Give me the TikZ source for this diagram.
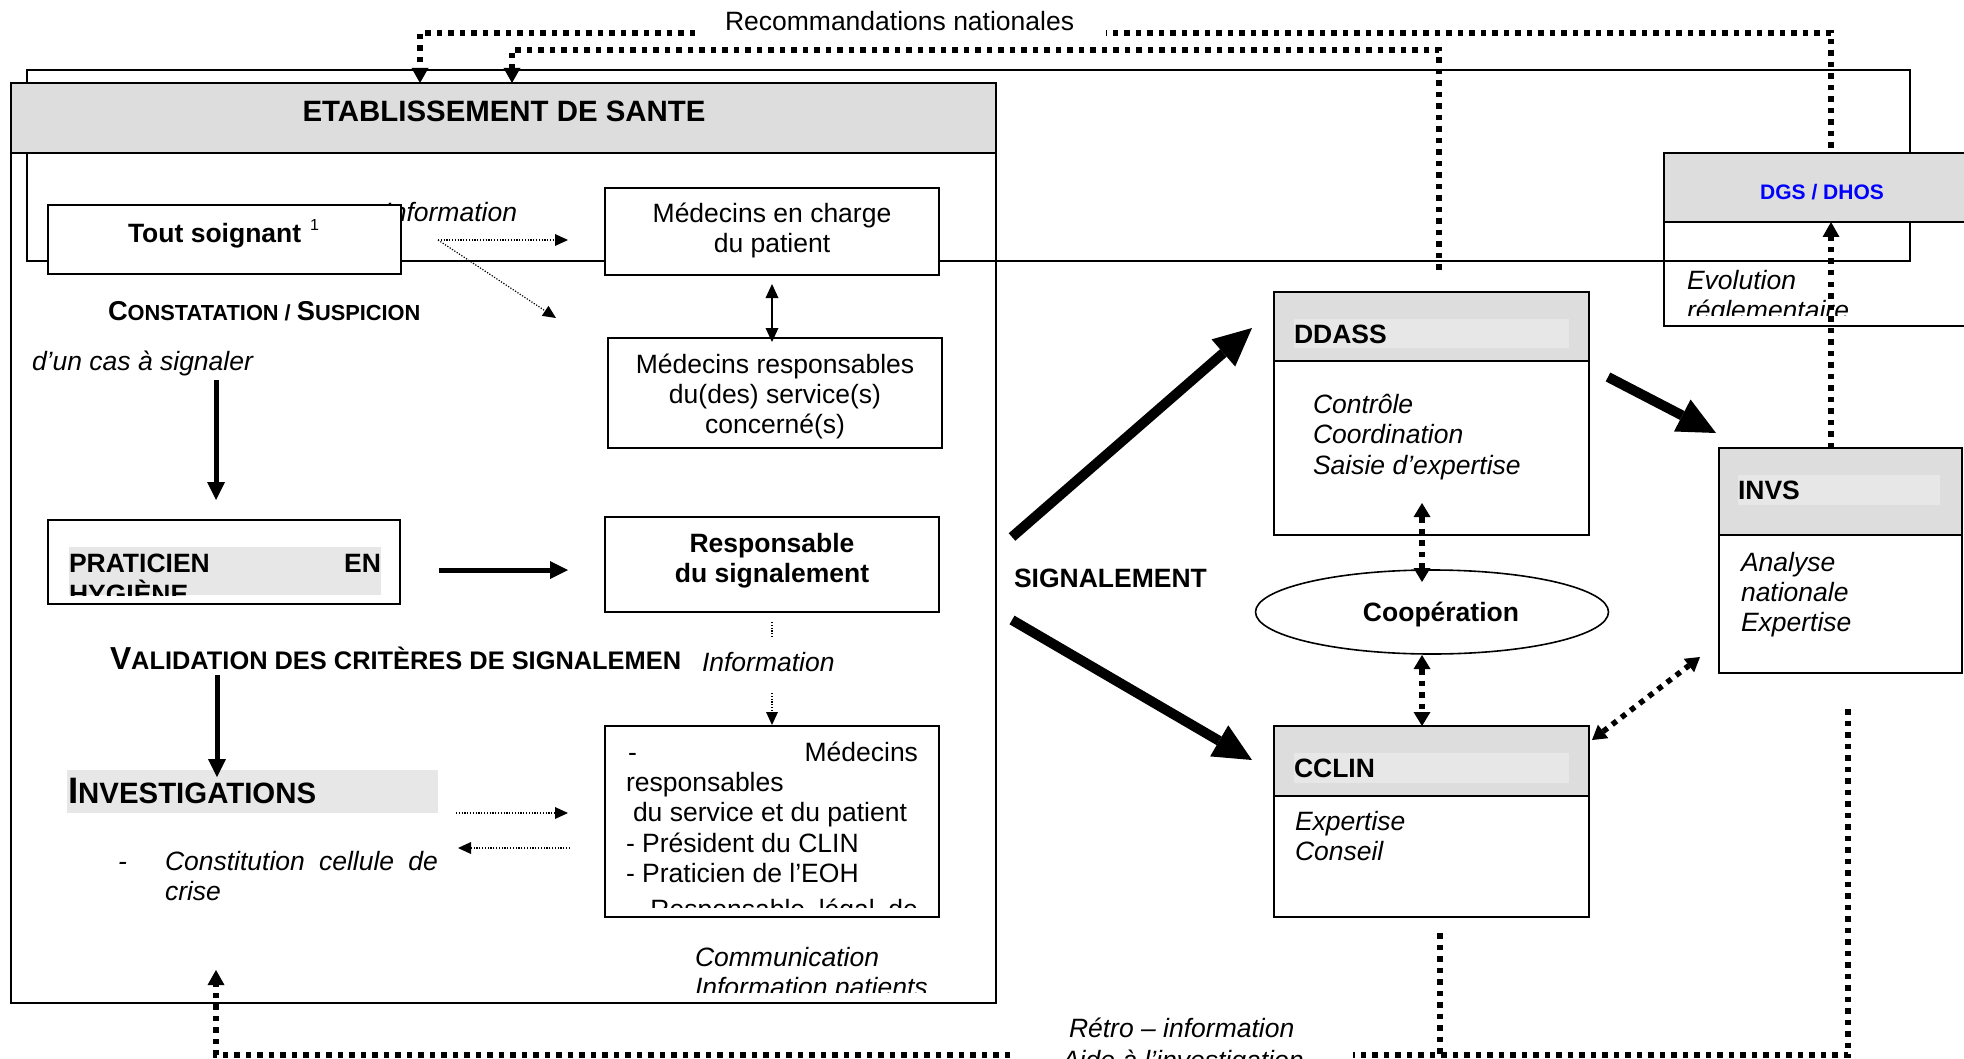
\documentclass[tikz,border=0pt]{standalone}
\usepackage{fontspec}
\setmainfont{Liberation Sans}
\usetikzlibrary{arrows.meta,shapes.geometric}
\definecolor{hdrgray}{RGB}{221,221,221}
\definecolor{hilgray}{RGB}{231,231,231}
\definecolor{dgsblue}{RGB}{0,0,255}
\newcommand\fN{\fontsize{26.5}{30.5}\selectfont}
\newcommand\scA[1]{{\fontsize{21.8}{25}\selectfont #1}}
\newcommand\scB[1]{{\fontsize{25.4}{28}\selectfont #1}}
\newcommand\scC[1]{{\fontsize{29.4}{32}\selectfont #1}}
\begin{document}
\begin{tikzpicture}[x=1pt,y=-1pt,
  bx/.style={draw=black,line width=2.2pt,inner sep=0pt,outer sep=0pt,anchor=north west},
  wbx/.style={bx,fill=white},
  hbx/.style={bx,fill=hdrgray},
  hl/.style={fill=hilgray,inner sep=0pt,outer sep=0pt,anchor=north west},
  lbl/.style={inner sep=0pt,outer sep=0pt,anchor=base west,font=\fN},
  clbl/.style={lbl,anchor=base},
  bigdot/.style={line width=5.5pt,dash pattern=on 5.5pt off 6pt},
  thindot/.style={line width=1.2pt,dash pattern=on 1.2pt off 1.6pt},
  tipM/.style={-{Triangle[length=15pt,width=17pt,line width=0pt]}},
  tipMM/.style={{Triangle[length=14pt,width=17pt,line width=0pt]}-{Triangle[length=14pt,width=17pt,line width=0pt]}},
  tipS/.style={-{Triangle[length=13pt,width=12pt,line width=0pt]}},
  thkarrow/.style={line width=5pt,-{Triangle[length=18pt,width=18pt,line width=0pt]}},
  bigarrow/.style={line width=10pt,-{Triangle[length=38pt,width=36pt,line width=0pt]}},
  medarrow/.style={line width=2.2pt,{Triangle[length=14pt,width=13pt,line width=0pt]}-{Triangle[length=14pt,width=13pt,line width=0pt]}}
]
\useasboundingbox (0,0) rectangle (1964,1059);
\fill[white] (0,0) rectangle (1964,1059);
\clip (0,0) rectangle (1964,1059);

% outer frame
\node[bx,minimum width=1883pt,minimum height=191pt] (cadre) at (27,70) {};

% Etablissement
\node[bx,minimum width=985pt,minimum height=920pt] (etab) at (11,83) {};
\node[hbx,minimum width=985pt,minimum height=70pt] (etabh) at (11,83) {};
\node[clbl,font=\fontsize{29.4}{33}\selectfont\bfseries] (etabt) at (504,122) {ETABLISSEMENT DE SANTE};

% DGS / DHOS
\node[bx,minimum width=330pt,minimum height=173pt] (dgs) at (1664,153) {};
\node[hbx,minimum width=330pt,minimum height=69pt] (dgsh) at (1664,153) {};
\node[clbl,font=\fontsize{21}{25}\selectfont\bfseries,text=dgsblue] (dgst) at (1822,200) {DGS / DHOS};
\begin{scope}
\clip (1664,222) rectangle (1964,315);
\node[lbl,font=\fN\itshape] (evo1) at (1687,289.5) {Evolution};
\node[lbl,font=\fN\itshape] (evo2) at (1687,319.5) {réglementaire};
\end{scope}

% top texts
\node[lbl] (recnat) at (725,31) {Recommandations nationales};

% Tout soignant
\node[lbl,font=\fN\itshape,anchor=base east] (info1) at (517,222) {Information};
\node[wbx,minimum width=353pt,minimum height=69pt] (tout) at (48,205) {};
\node[lbl,font=\fN\bfseries] (toutt) at (128,243) {Tout soignant\hspace{9pt}\raisebox{12pt}{\fontsize{16}{16}\selectfont\mdseries 1}};

% Medecins en charge
\node[wbx,minimum width=334pt,minimum height=87pt] (medc) at (605,188) {};
\node[clbl] (medc1) at (772,223) {Médecins en charge};
\node[clbl] (medc2) at (772,253) {du patient};

% Medecins responsables
\node[bx,minimum width=334pt,minimum height=110pt] (medr) at (608,338) {};
\node[clbl] (medr1) at (775,373) {Médecins responsables};
\node[clbl] (medr2) at (775,403) {du(des) service(s)};
\node[clbl] (medr3) at (775,433) {concerné(s)};

\node[lbl,font=\fontsize{27.3}{31}\selectfont\bfseries] (const) at (108,320) {C\scA{ONSTATATION / }S\scA{USPICION}};
\node[lbl,font=\fN\itshape] (cas) at (32,370.5) {d’un cas à signaler};

% Praticien
\node[hl,minimum width=312pt,minimum height=48pt] (prath) at (69,547) {};
\node[bx,minimum width=352pt,minimum height=84pt] (prat) at (48,520) {};
\begin{scope}
\clip (69,547) rectangle (381,595);
\node[lbl,font=\fN\bfseries] (prat1) at (69,572) {\makebox[312pt][s]{PRATICIEN EN}};
\node[lbl,font=\fN\bfseries] (prat2) at (69,603) {HYGIÈNE};
\end{scope}

% Responsable du signalement
\node[bx,minimum width=334pt,minimum height=95pt] (resp) at (605,517) {};
\node[clbl,font=\fN\bfseries] (resp1) at (772,552.5) {Responsable};
\node[clbl,font=\fN\bfseries] (resp2) at (772,582.5) {du signalement};

\node[lbl,font=\fontsize{31.8}{35}\selectfont\bfseries] (valid) at (110,669) {V\scB{ALIDATION DES CRITÈRES DE SIGNALEMEN}};
\node[lbl,font=\fN\itshape] (info2) at (702,671) {Information};

% Investigations
\node[hl,minimum width=371pt,minimum height=43pt] (invh) at (67,770) {};
\node[lbl,font=\fontsize{36.8}{40}\selectfont\bfseries] (invt) at (68,803) {I\scC{NVESTIGATIONS}};
\node[lbl,font=\fN\itshape] (dash1) at (118,870) {-};
\node[lbl,font=\fN\itshape] (cons1) at (165,870) {\makebox[273pt][s]{Constitution cellule de}};
\node[lbl,font=\fN\itshape] (cons2) at (165,900) {crise};

% list box
\node[bx,minimum width=334pt,minimum height=191pt] (medl) at (605,726) {};
\begin{scope}
\clip (605,726) rectangle (939,907);
\node[lbl] (l1) at (628,761) {\makebox[290pt][s]{- Médecins}};
\node[lbl] (l2) at (626,791) {responsables};
\node[lbl] (l3) at (633,821) {du service et du patient};
\node[lbl] (l4) at (626,852) {- Président du CLIN};
\node[lbl] (l5) at (626,882) {- Praticien de l’EOH};
\node[lbl] (l6) at (628,918) {\makebox[290pt][s]{- Responsable légal de}};
\end{scope}
\begin{scope}
\clip (600,930) rectangle (990,992);
\node[lbl,font=\fN\itshape] (com1) at (695,966) {Communication};
\node[lbl,font=\fN\itshape] (com2) at (695,996) {Information patients};
\end{scope}

\node[lbl,font=\fN\bfseries] (signal) at (1014,587) {SIGNALEMENT};

% DDASS
\node[bx,minimum width=315pt,minimum height=243pt] (ddass) at (1274,292) {};
\node[hbx,minimum width=315pt,minimum height=69pt] (ddassh) at (1274,292) {};
\node[hl,minimum width=275pt,minimum height=29pt] (ddassl) at (1294,319) {};
\node[lbl,font=\fN\bfseries] (ddasst) at (1294,343) {DDASS};
\node[lbl,font=\fN\itshape] (dd1) at (1313,413) {Contrôle};
\node[lbl,font=\fN\itshape] (dd2) at (1313,443.5) {Coordination};
\node[lbl,font=\fN\itshape] (dd3) at (1313,474) {Saisie d’expertise};

% Cooperation
\node[ellipse,draw=black,line width=1.6pt,minimum width=353pt,minimum height=84pt,inner sep=0pt] (coop) at (1432,612) {};
\node[clbl,font=\fN\bfseries] (coopt) at (1441,621) {Coopération};

% CCLIN
\node[bx,minimum width=315pt,minimum height=191pt] (cclin) at (1274,726) {};
\node[hbx,minimum width=315pt,minimum height=70pt] (cclinh) at (1274,726) {};
\node[hl,minimum width=275pt,minimum height=30pt] (cclinl) at (1294,753) {};
\node[lbl,font=\fN\bfseries] (cclint) at (1294,777) {CCLIN};
\node[lbl,font=\fN\itshape] (cc1) at (1295,830.5) {Expertise};
\node[lbl,font=\fN\itshape] (cc2) at (1295,860.5) {Conseil};

% INVS
\node[bx,minimum width=243pt,minimum height=225pt] (invs) at (1719,448) {};
\node[hbx,minimum width=243pt,minimum height=87pt] (invsh) at (1719,448) {};
\node[hl,minimum width=202pt,minimum height=30pt] (invsl) at (1738,475) {};
\node[lbl,font=\fN\bfseries] (invst) at (1738,499) {INVS};
\node[lbl,font=\fN\itshape] (iv1) at (1741,571.5) {Analyse};
\node[lbl,font=\fN\itshape] (iv2) at (1741,601.5) {nationale};
\node[lbl,font=\fN\itshape] (iv3) at (1741,631.5) {Expertise};

% retro text
\node[lbl,font=\fN\itshape] (retro1) at (1069,1037) {Rétro – information};
\node[lbl,font=\fN\itshape] (retro2) at (1062,1069) {Aide à l’investigation};

% ---------- coordinates ----------
\coordinate (xa) at (1831,0);
\coordinate (xc) at (1422,0);
\coordinate (ra0) at (1831,148);
\coordinate (ra1) at (1831,33);
\coordinate (ra2) at (1106,33);
\coordinate (ra3) at (695,33);
\coordinate (ra4) at (420,83);
\coordinate (rb0) at (1439,270);
\coordinate (rb1) at (1439,50);
\coordinate (rb2) at (512,83);
\coordinate (rc0) at (1848,709);
\coordinate (rc1) at (1848,1055);
\coordinate (rc2) at (1353,1055);
\coordinate (rc3) at (1010,1055);
\coordinate (rc4) at (216,970);
\coordinate (rd0) at (1440,933);
\coordinate (rd1) at (1440,1055);

% dotted national lines
\draw[bigdot] (ra0) -- (ra1) -- (ra2);
\draw[bigdot,tipM] (ra3) -| (ra4);
\draw[bigdot,tipM] (rb0) -- (rb1) -| (rb2);
\draw[bigdot,tipM] (invs.north -| xa) -- (dgsh.south -| xa);

% bottom retro lines
\draw[bigdot] (rc0) -- (rc1) -- (rc2);
\draw[bigdot,tipM] (rc3) -| (rc4);
\draw[bigdot] (rd0) -- (rd1);

% cooperation arrows
\coordinate (c1) at (1422,503);
\coordinate (c2) at (1422,582);
\coordinate (c3) at (1422,655);
\draw[bigdot,tipMM] (c1) -- (c2);
\draw[bigdot,tipMM] (c3) -- (cclin.north -| xc);
\coordinate (d1) at (1592,740);
\coordinate (d2) at (1700,657);
\draw[bigdot,tipMM] (d1) -- (d2);

% big signalement arrows
\coordinate (s0) at (1012,537);
\coordinate (s1) at (1252,328);
\coordinate (s2) at (1012,620);
\coordinate (s3) at (1252,760);
\coordinate (s4) at (1608,377);
\coordinate (s5) at (1716,433);
\draw[bigarrow] (s0) -- (s1);
\draw[bigarrow] (s2) -- (s3);
\draw[bigarrow] (s4) -- (s5);

% thick solid arrows in etablissement
\coordinate (t0) at (216,380);
\coordinate (t1) at (216,500);
\coordinate (t2) at (439,570);
\coordinate (t3) at (568,570);
\coordinate (t4) at (217,675);
\coordinate (t5) at (217,777);
\draw[thkarrow] (t0) -- (t1);
\draw[thkarrow] (t2) -- (t3);
\draw[thkarrow] (t4) -- (t5);

% medecins double arrow
\coordinate (m0) at (772,284);
\coordinate (m1) at (772,342);
\draw[medarrow] (m0) -- (m1);

% thin dotted arrows
\coordinate (i0) at (438,240);
\coordinate (i1) at (568,240);
\coordinate (i2) at (556,318);
\draw[thindot,tipS] (i0) -- (i1);
\draw[thindot,tipS] (i0) -- (i2);
\coordinate (j0) at (772,622);
\coordinate (j1) at (772,638);
\draw[thindot] (j0) -- (j1);
\coordinate (j2) at (772,693);
\coordinate (j3) at (772,725);
\draw[thindot,tipS] (j2) -- (j3);
\coordinate (k0) at (456,813);
\coordinate (k1) at (568,813);
\coordinate (k2) at (570,848);
\coordinate (k3) at (458,848);
\draw[thindot,tipS] (k0) -- (k1);
\draw[thindot,tipS] (k2) -- (k3);
\end{tikzpicture}
\end{document}
